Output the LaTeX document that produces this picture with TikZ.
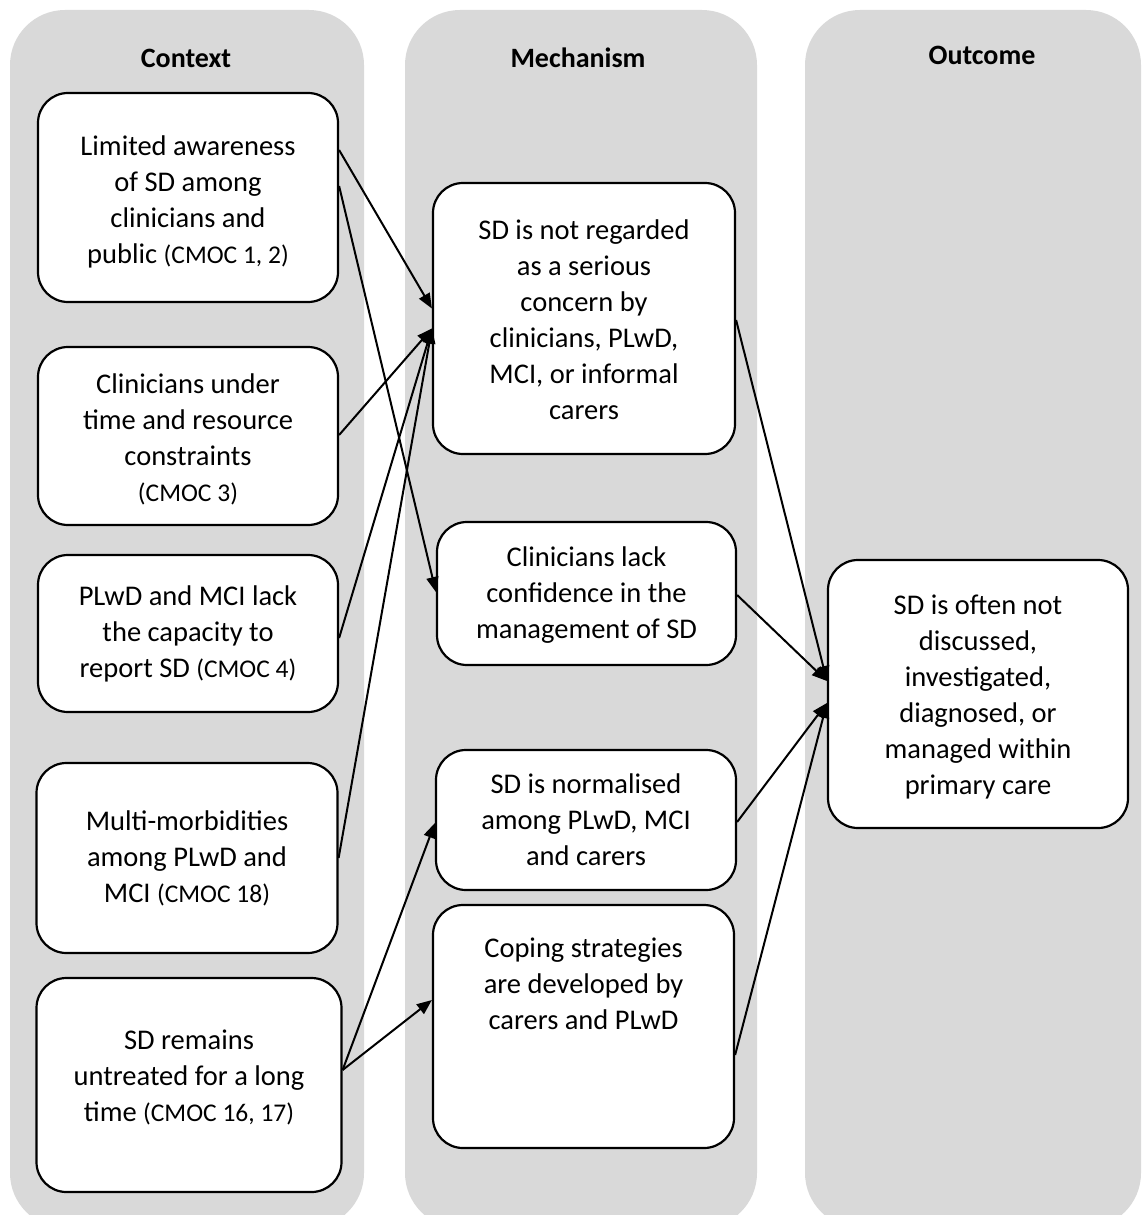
\documentclass[tikz,border=0pt]{standalone}
\usepackage{fontspec}
\setmainfont{Carlito}
\usetikzlibrary{arrows.meta}
\definecolor{colgray}{HTML}{D9D9D9}
\tikzset{
  column/.style={fill=colgray, rounded corners=55pt},
  box/.style={draw=black, line width=2.2pt, fill=white, rounded corners=30pt,
    inner sep=0pt},
  txt/.style={align=center, inner sep=0pt, font=\fontsize{28.5}{36}\selectfont},
  hdr/.style={font=\bfseries\fontsize{28}{32}\selectfont, inner sep=0pt},
  conn/.style={line width=2pt, -{Triangle[length=15pt,width=12pt]}},
}
\newcommand{\cm}[1]{{\fontsize{25.5}{36}\selectfont #1}}
\begin{document}
\begin{tikzpicture}[x=1pt,y=-1pt]
\useasboundingbox (0,0) rectangle (1141,1215);
\clip (0,0) rectangle (1141,1215);
% columns
\fill[column] (10,10) rectangle (364,1228);
\fill[column] (405,10) rectangle (757,1228);
\fill[column] (805,10) rectangle (1141,1228);
% headers
\node[hdr] (hc) at (186,58) {Context};
\node[hdr] (hm) at (578,58) {Mechanism};
\node[hdr] (ho) at (982,55) {Outcome};
% context boxes
\node[box, minimum width=300pt, minimum height=209pt] (c1) at (188,197.5) {};
\node[txt] (c1t) at ([yshift=-4pt]c1.center)
  {Limited awareness\\of SD among\\clinicians and\\public \cm{(CMOC 1, 2)}};
\node[box, minimum width=300pt, minimum height=178pt] (c2) at (188,436) {};
\node[txt] (c2t) at ([yshift=-3pt]c2.center)
  {Clinicians under\\time and resource\\constraints\\\cm{(CMOC 3)}};
\node[box, minimum width=300pt, minimum height=157pt] (c3) at (188,633.5) {};
\node[txt] (c3t) at (c3.center)
  {PLwD and MCI lack\\the capacity to\\report SD \cm{(CMOC 4)}};
\node[box, minimum width=301pt, minimum height=190pt] (c4) at (187,858) {};
\node[txt] (c4t) at (c4.center)
  {Multi-morbidities\\among PLwD and\\MCI \cm{(CMOC 18)}};
\node[box, minimum width=305pt, minimum height=214pt] (c5) at (189,1085) {};
\node[txt] (c5t) at ([yshift=8pt]c5.center)
  {SD remains\\untreated for a long\\time \cm{(CMOC 16, 17)}};
% mechanism boxes
\node[box, minimum width=302pt, minimum height=271pt] (m1) at (584,318.5) {};
\node[txt] (m1t) at ([yshift=-1pt]m1.center)
  {SD is not regarded\\as a serious\\concern by\\clinicians, PLwD,\\MCI, or informal\\carers};
\node[box, minimum width=299pt, minimum height=143pt] (m2) at (586.5,593.5) {};
\node[txt] (m2t) at ([yshift=-2pt]m2.center)
  {Clinicians lack\\confidence in the\\management of SD};
\node[box, minimum width=300pt, minimum height=140pt] (m3) at (586,820) {};
\node[txt] (m3t) at (m3.center)
  {SD is normalised\\among PLwD, MCI\\and carers};
\node[box, minimum width=301pt, minimum height=243pt] (m4) at (583.5,1026.5) {};
\node[txt] (m4t) at ([yshift=43pt]m4.center)
  {Coping strategies\\are developed by\\carers and PLwD};
% outcome box
\node[box, minimum width=300pt, minimum height=268pt] (o) at (978,694) {};
\node[txt] (ot) at ([yshift=-3pt]o.center)
  {SD is often not\\discussed,\\investigated,\\diagnosed, or\\managed within\\primary care};
% connectors context -> mechanism
\draw[conn] ([yshift=47.5pt]c1.east) -- ([yshift=10pt]m1.west);
\draw[conn] ([yshift=11.5pt]c1.east) -- ([yshift=1.5pt]m2.west);
\draw[conn] ([yshift=1pt]c2.east) -- ([yshift=-10pt]m1.west);
\draw[conn] ([yshift=-4.5pt]c3.east) -- ([yshift=-10pt]m1.west);
\draw[conn] (c4.east) -- ([yshift=-10pt]m1.west);
\draw[conn] ([yshift=15pt]c5.east) -- ([yshift=-3pt]m3.west);
\draw[conn] ([yshift=15pt]c5.east) -- ([yshift=26.5pt]m4.west);
% connectors mechanism -> outcome
\draw[conn] ([yshift=-1.5pt]m1.east) -- ([yshift=13pt]o.west);
\draw[conn] ([yshift=-1.5pt]m2.east) -- ([yshift=13pt]o.west);
\draw[conn] ([yshift=-2pt]m3.east) -- ([yshift=-9pt]o.west);
\draw[conn] ([yshift=-28.5pt]m4.east) -- ([yshift=-9pt]o.west);
\end{tikzpicture}
\end{document}
